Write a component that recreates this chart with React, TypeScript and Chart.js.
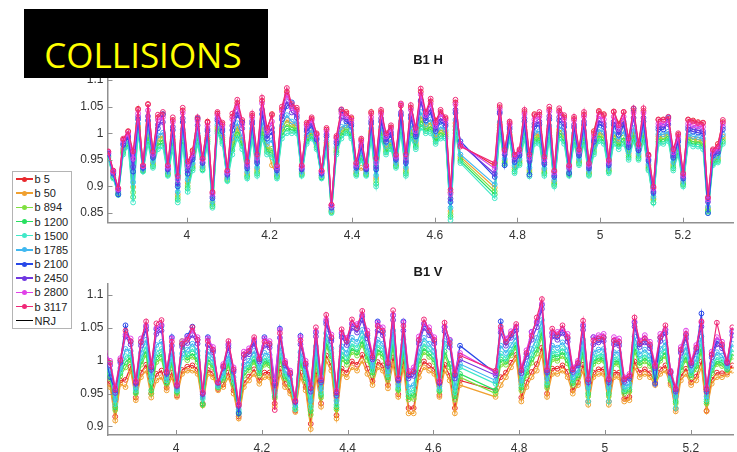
import React, { useEffect, useRef } from "react";
import { Chart, registerables } from "chart.js";

Chart.register(...registerables);

// ---------- categories / labels ----------
const seriesNames = ["b 5", "b 50", "b 894", "b 1200", "b 1500", "b 1785", "b 2100", "b 2450", "b 2800", "b 3117"];
const seriesColors = ["#e8282d", "#f0a030", "#80e040", "#28e060", "#40e8c8", "#40b8f0", "#2848e8", "#7038e0", "#e040e8", "#f02878"];
const legendNames = [...seriesNames, "NRJ"];
const legendColors = [...seriesColors, "#000000"];

const xTicks = [4, 4.2, 4.4, 4.6, 4.8, 5, 5.2];
const xTickLabels = ["4", "4.2", "4.4", "4.6", "4.8", "5", "5.2"];
const hYTicks = [0.85, 0.9, 0.95, 1, 1.05, 1.1];
const hYTickLabels = ["0.85", "0.9", "0.95", "1", "1.05", "1.1"];
const vYTicks = [0.9, 0.95, 1, 1.05, 1.1];
const vYTickLabels = ["0.9", "0.95", "1", "1.05", "1.1"];

// ---------- x values (shared by both panels) ----------
const xValues = [
  3.81, 3.822, 3.834, 3.846, 3.858, 3.87, 3.882, 3.894, 3.906, 3.918, 3.93, 3.942,
  3.954, 3.966, 3.978, 3.99, 4.002, 4.014, 4.026, 4.038, 4.05, 4.062, 4.074, 4.086,
  4.098, 4.11, 4.122, 4.134, 4.146, 4.158, 4.17, 4.182, 4.194, 4.206, 4.218, 4.23,
  4.242, 4.254, 4.266, 4.278, 4.29, 4.302, 4.314, 4.326, 4.338, 4.35, 4.362, 4.374,
  4.386, 4.398, 4.41, 4.422, 4.434, 4.446, 4.458, 4.47, 4.482, 4.494, 4.506, 4.518,
  4.53, 4.542, 4.554, 4.566, 4.578, 4.59, 4.602, 4.614, 4.626, 4.638, 4.65, 4.662,
  4.745, 4.757, 4.769, 4.781, 4.793, 4.805, 4.817, 4.829, 4.841, 4.853, 4.865, 4.877,
  4.889, 4.901, 4.913, 4.925, 4.937, 4.949, 4.961, 4.973, 4.985, 4.997, 5.009, 5.021,
  5.033, 5.045, 5.057, 5.069, 5.081, 5.093, 5.105, 5.117, 5.129, 5.141, 5.153, 5.165,
  5.177, 5.189, 5.201, 5.213, 5.225, 5.237, 5.249, 5.261, 5.273, 5.285, 5.297,
];

// ---------- B1 H ----------
const hB5 = [
  .965, .929, .896, .988, 1.004, .958, 1.046, .939, 1.055, .964, 1.030, 1.035,
  .938, 1.025, .916, 1.043, .942, .968, 1.026, .951, 1.022, .888, 1.037, 1.017,
  .928, 1.031, 1.057, 1.021, .944, 1.033, .957, 1.061, 1.006, 1.036, .938, 1.045,
  1.078, 1.051, 1.044, .938, 1.017, 1.027, .998, .929, 1.007, .865, .992, 1.041,
  1.040, 1.027, .943, .987, .938, 1.040, .949, 1.040, .997, 1.011, .958, 1.052,
  .957, 1.048, 1.007, 1.078, 1.037, 1.060, 1.024, 1.040, 1.027, .889, 1.058, .978,
  .939, 1.049, .967, 1.019, .957, .968, 1.040, .957, 1.036, 1.035, .953, 1.045,
  .928, 1.042, 1.030, .938, 1.027, .968, 1.035, .942, 1.004, 1.042, 1.036, .948,
  1.041, 1.018, 1.040, .987, 1.042, .978, 1.042, .958, .898, 1.026, 1.026, 1.027,
  .967, .997, .923, 1.026, 1.024, 1.021, 1.020, .878, .968, .980, 1.021,
];
const hB50 = [
  .957, .920, .888, .969, .984, .899, 1.013, .932, 1.002, .944, .990, .995,
  .926, .988, .885, 1.000, .907, .941, .995, .937, .992, .869, 1.012, .992,
  .916, .983, 1.012, .987, .925, 1.004, .932, 1.013, .975, .940, .923, 1.008,
  1.025, 1.017, 1.014, .926, .992, 1.002, .979, .920, .982, .855, .971, 1.007,
  1.011, 1.028, .928, .935, .926, 1.004, .916, 1.006, .972, .984, .943, 1.017,
  .932, 1.009, .982, 1.032, 1.012, 1.020, .992, 1.006, 1.002, .854, 1.019, .956,
  .898, 1.016, .949, .998, .936, .949, 1.006, .931, .996, .998, .931, 1.008,
  .909, 1.007, .996, .926, .995, .949, .998, .927, .972, 1.002, .996, .933,
  .998, .984, 1.018, .962, 1.004, .959, 1.004, .939, .878, .994, .994, .999,
  .942, .972, .908, .994, .989, .988, .985, .859, .949, .954, .994,
];
const hB894 = [
  .956, .918, .887, .966, .981, .889, 1.009, .930, .995, .941, .983, .988,
  .924, .982, .880, .994, .901, .937, .990, .935, .988, .866, 1.008, .988,
  .914, .975, 1.005, .981, .921, .999, .928, 1.005, .970, .971, .920, 1.002,
  1.017, 1.011, 1.010, .924, .988, .998, .976, .918, .978, .853, .967, 1.001,
  1.007, .998, .925, .958, .924, .999, .911, 1.001, .968, .979, .940, 1.011,
  .928, 1.003, .978, 1.025, 1.008, 1.013, .988, 1.001, .998, .848, 1.013, .952,
  .891, 1.011, .946, .995, .932, .946, 1.001, .927, .991, .992, .927, 1.002,
  .906, 1.001, .991, .924, .990, .946, .992, .925, .968, .996, .991, .930,
  .992, .979, .992, .958, .997, .956, .997, .936, .875, .989, .989, .994,
  .938, .968, .905, .989, .984, .984, .980, .856, .946, .951, .989,
];
const hB1200 = [
  .954, .917, .885, .963, .978, .880, 1.004, .929, .987, .938, .977, .982,
  .922, .976, .875, .987, .896, .934, .985, .932, .984, .863, 1.004, .984,
  .912, .968, .997, .976, .918, .995, .924, .998, .965, .963, .918, .996,
  1.009, 1.006, 1.005, .922, .984, .994, .973, .917, .974, .852, .964, .996,
  1.004, .994, .923, .954, .922, .995, .905, .995, .964, .975, .938, 1.006,
  .924, .996, .974, 1.017, 1.004, 1.007, .984, .995, .994, .843, 1.006, .948,
  .885, 1.005, .943, .991, .928, .943, .995, .923, .985, .986, .924, .996,
  .903, .996, .985, .922, .985, .943, .986, .922, .964, .990, .985, .928,
  .986, .975, .986, .954, .991, .953, .991, .933, .870, .984, .984, .990,
  .934, .964, .903, .984, .980, .979, .975, .853, .943, .948, .984,
];
const hB1500 = [
  .953, .915, .884, .960, .975, .870, 1.000, .928, .980, .935, .970, .975,
  .920, .970, .870, .980, .890, .930, .980, .930, .980, .860, 1.000, .980,
  .910, .960, .990, .970, .915, .990, .920, .990, .960, .955, .915, .990,
  1.000, 1.000, 1.000, .920, .980, .990, .970, .915, .970, .850, .960, .990,
  1.000, .990, .920, .950, .920, .990, .900, .990, .960, .970, .935, 1.000,
  .920, .990, .970, 1.010, 1.000, 1.000, .980, .990, .990, .837, 1.000, .944,
  .878, 1.000, .940, .988, .925, .940, .990, .919, .980, .980, .920, .990,
  .900, .990, .980, .920, .980, .940, .980, .920, .960, .985, .980, .925,
  .980, .970, .980, .950, .985, .950, .985, .930, .869, .980, .980, .985,
  .930, .960, .900, .980, .975, .975, .970, .850, .940, .945, .980,
];
const hB1785 = [
  .958, .921, .889, .972, .986, .908, 1.018, .933, 1.010, .947, .996, 1.001,
  .928, .994, .890, 1.007, .913, .944, 1.000, .939, .996, .872, 1.016, .996,
  .918, .991, 1.019, .992, .928, 1.009, .936, 1.021, .980, .987, .925, 1.014,
  1.034, 1.022, 1.019, .928, .996, 1.006, .982, .921, .986, .856, .974, 1.012,
  1.015, 1.006, .930, .966, .928, 1.009, .921, 1.012, .976, .988, .945, 1.022,
  .936, 1.015, .986, 1.040, 1.016, 1.026, .996, 1.012, 1.006, .860, 1.025, .960,
  .904, 1.021, .952, 1.002, .939, .952, 1.012, .935, 1.002, 1.004, .934, 1.014,
  .912, 1.013, 1.002, .928, 1.000, .952, 1.004, .930, .976, 1.007, 1.002, .935,
  1.004, .988, 1.004, .966, 1.010, .962, 1.010, .942, .881, .998, .998, 1.003,
  .946, .976, .910, .998, .994, .993, .990, .862, .952, .957, .998,
];
const hB2100 = [
  .961, .924, .885, .978, .992, .928, 1.026, .935, 1.024, .954, 1.009, 1.036,
  .932, 1.006, .900, 1.021, .924, .951, 1.028, .944, 1.004, .878, 1.024, 1.004,
  .922, 1.006, 1.034, 1.020, .934, 1.018, .944, 1.036, .990, 1.002, .930, 1.026,
  1.051, 1.058, 1.029, .932, 1.004, 1.014, .988, .924, .994, .860, .981, 1.044,
  1.022, 1.014, .935, .974, .932, 1.018, .932, 1.022, .984, .997, .950, 1.034,
  .944, 1.028, .994, 1.060, 1.024, 1.039, 1.004, 1.022, 1.014, .871, 1.038, .985,
  .918, 1.040, .940, 1.008, .946, .958, 1.022, .922, 1.012, 1.016, .942, 1.026,
  .918, 1.024, 1.012, .925, 1.011, .958, 1.016, .934, .984, 1.018, 1.012, .940,
  1.016, .997, 1.016, .974, 1.046, .968, 1.022, .948, .888, 1.007, 1.007, 1.030,
  .954, .984, .915, 1.007, 1.003, 1.001, .999, .850, .958, .963, 1.007,
];
const hB2450 = [
  .962, .926, .893, .981, .995, .937, 1.031, .937, 1.032, .957, 1.016, 1.021,
  .934, 1.012, .905, 1.028, .930, .955, 1.015, .946, 1.008, .881, 1.028, 1.008,
  .924, 1.014, 1.041, 1.009, .938, 1.023, .948, 1.044, .995, 1.010, .933, 1.032,
  1.060, 1.039, 1.034, .934, 1.008, 1.018, .991, .926, .998, .861, .985, 1.029,
  1.026, 1.018, .938, .978, .934, 1.023, .937, 1.028, .988, 1.002, .953, 1.039,
  .948, 1.034, .998, 1.062, 1.028, 1.046, 1.008, 1.028, 1.018, .877, 1.044, .980,
  .924, 1.037, .960, 1.012, .950, .961, 1.028, .948, 1.018, 1.022, .945, 1.032,
  .921, 1.030, 1.018, .934, 1.016, .961, 1.022, .937, .988, 1.024, 1.018, .943,
  1.022, 1.002, 1.022, .978, 1.029, .971, 1.029, .951, .891, 1.012, 1.012, 1.017,
  .958, .988, .918, 1.012, 1.008, 1.006, 1.004, .871, .961, .966, 1.012,
];
const hB2800 = [
  .964, .928, .895, .986, .999, .952, 1.037, .938, 1.043, .961, 1.025, 1.030,
  .937, 1.021, .913, 1.038, .939, .960, 1.023, .950, 1.014, .886, 1.034, 1.014,
  .927, 1.026, 1.052, 1.017, .942, 1.030, .954, 1.056, 1.003, 1.022, .936, 1.041,
  1.072, 1.047, 1.041, .937, 1.014, 1.024, .996, .928, 1.004, .864, .990, 1.037,
  1.032, 1.024, .941, .984, .937, 1.030, .945, 1.036, .994, 1.008, .956, 1.054,
  .954, 1.044, 1.004, 1.073, 1.034, 1.055, 1.014, 1.036, 1.024, .886, 1.054, .979,
  .934, 1.045, .965, 1.017, .955, .966, 1.036, .954, 1.026, 1.031, .951, 1.041,
  .926, 1.039, 1.026, .937, 1.024, .966, 1.031, .941, .994, 1.032, 1.026, .946,
  1.031, 1.008, 1.031, .984, 1.038, .976, 1.038, .956, .896, 1.018, 1.018, 1.024,
  .964, .994, .921, 1.018, 1.015, 1.013, 1.012, .876, .966, .971, 1.018,
];
const hB3117 = [
  .966, .930, .897, .990, 1.003, .966, 1.044, .940, 1.054, .966, 1.035, 1.040,
  .940, 1.030, .920, 1.048, .947, .965, 1.030, .953, 1.020, .890, 1.040, 1.020,
  .930, 1.037, 1.063, 1.025, .947, 1.037, .960, 1.067, 1.010, 1.034, .940, 1.050,
  1.085, 1.055, 1.048, .940, 1.020, 1.030, 1.000, .930, 1.010, .866, .995, 1.045,
  1.037, 1.030, .945, .990, .940, 1.037, .953, 1.044, 1.000, 1.015, .960, 1.056,
  .960, 1.053, 1.010, 1.084, 1.040, 1.065, 1.020, 1.044, 1.030, .894, 1.063, .975,
  .944, 1.053, .969, 1.022, .960, .970, 1.044, .960, 1.034, 1.040, .956, 1.050,
  .930, 1.047, 1.034, .940, 1.031, .970, 1.040, .944, 1.000, 1.040, 1.034, .950,
  1.040, 1.015, 1.040, .990, 1.047, .980, 1.047, .960, .900, 1.025, 1.025, 1.031,
  .970, 1.000, .925, 1.025, 1.022, 1.019, 1.019, .880, .970, .975, 1.025,
];

// ---------- B1 V ----------
const vB5 = [
  .974, .979, .971, .965, .915, .970, .971, .991, .944, .982, .994, .950,
  .980, .985, .959, .982, .947, .986, .991, .993, .987, .935, .986, .981,
  .957, .964, .982, .955, .915, .966, .976, .987, .970, .982, .982, .935,
  .988, .965, .954, .924, .982, .960, .904, .984, .935, 1.008, .992, .917,
  .988, .982, .999, .994, 1.009, .988, .969, .998, .993, .963, 1.005, .949,
  .998, .928, .928, .982, .999, .993, .987, .948, .994, .977, .928, .970,
  .955, .975, .982, .997, 1.009, .944, .967, .983, .995, 1.020, .950, .988,
  .988, .993, .983, .955, .967, .994, .938, .982, .987, .987, .938, .982,
  .982, .942, .945, .999, .982, .987, .981, .967, .987, .993, .966, .927,
  .976, .988, .967, .976, .999, .924, .971, .982, .981, .982, .993,
];
const vB50 = [
  .970, .975, .965, .960, .909, .965, .960, .985, .940, .975, .985, .944,
  .970, .975, .955, .975, .945, .980, .985, .985, .980, .932, .980, .975,
  .955, .960, .975, .950, .912, .960, .970, .980, .965, .975, .975, .930,
  .980, .960, .950, .922, .975, .955, .896, .975, .930, 1.000, .985, .912,
  .980, .975, .990, .985, 1.000, .980, .963, .990, .985, .958, .995, .945,
  .990, .920, .920, .975, .990, .985, .980, .945, .985, .970, .920, .963,
  .945, .963, .975, .990, 1.003, .938, .960, .975, .985, 1.010, .945, .980,
  .980, .985, .975, .950, .963, .985, .933, .975, .980, .980, .933, .975,
  .975, .938, .940, .990, .975, .980, .975, .963, .980, .985, .963, .923,
  .970, .980, .963, .970, .990, .923, .965, .975, .975, .979, .985,
];
const vB894 = [
  .980, .986, .981, .973, .925, .977, .990, 1.001, .950, .994, 1.009, .950,
  .998, 1.003, .965, .994, .951, 1.030, 1.001, 1.006, .998, .933, .997, .990,
  .959, .971, .993, .963, .919, .977, .986, .998, .978, .994, .993, .943,
  1.001, .973, .961, .928, .995, .969, .918, .999, .944, 1.022, 1.003, .926,
  1.002, .994, 1.013, 1.008, 1.024, 1.001, .978, 1.012, 1.006, .971, 1.021, .955,
  1.012, .941, .942, .995, 1.013, 1.006, .998, .953, 1.008, .990, .941, .975,
  .950, .994, .994, 1.008, 1.020, .955, .978, .997, 1.011, 1.037, .959, 1.002,
  1.000, 1.007, .996, .963, .975, 1.009, .946, .995, .999, 1.000, .946, .995,
  .994, .950, .953, 1.014, .993, .999, .992, .973, 1.000, 1.007, .970, .935,
  .986, 1.001, .975, .987, 1.014, .935, .981, .995, .992, .986, 1.006,
];
const vB1200 = [
  .982, .989, .985, .976, .929, .981, .998, 1.005, .952, .999, 1.015, .955,
  1.005, 1.010, .967, .999, .953, 1.025, 1.005, 1.011, 1.002, .934, 1.002, .993,
  .960, .974, .997, .966, .921, .982, .990, 1.002, .981, .999, .997, .946,
  1.007, .976, .964, .929, .999, .973, .924, 1.005, .948, 1.027, 1.007, .929,
  1.007, .999, 1.019, 1.013, 1.030, 1.006, .982, 1.017, 1.011, .975, 1.028, .957,
  1.017, .946, .948, 1.000, 1.019, 1.011, 1.002, .955, 1.014, .995, .946, .980,
  .955, 1.002, .999, 1.012, 1.024, .959, .982, 1.003, 1.017, 1.044, .963, 1.008,
  1.006, 1.013, 1.001, .966, .978, 1.015, .950, .999, 1.004, 1.004, .950, .999,
  .999, .953, .956, 1.020, .997, 1.004, .997, .976, 1.004, 1.013, .972, .938,
  .990, 1.006, .978, .992, 1.020, .938, .985, .999, .997, .987, 1.011,
];
const vB1500 = [
  .985, .992, .990, .980, .934, .984, 1.007, 1.009, .955, 1.004, 1.022, .969,
  1.013, 1.018, .970, 1.004, .955, 1.005, 1.010, 1.018, 1.008, .942, 1.007, .998,
  .961, .977, 1.002, .970, .923, .987, .994, 1.008, .985, 1.004, 1.002, .950,
  1.013, .980, .967, .926, 1.005, .977, .930, 1.013, .952, 1.034, 1.012, .933,
  1.014, 1.005, 1.026, 1.020, 1.038, 1.013, .986, 1.024, 1.018, .979, 1.036, .960,
  1.024, .952, .955, 1.006, 1.026, 1.018, 1.008, .957, 1.021, 1.030, .952, .990,
  .965, 1.011, 1.004, 1.017, 1.029, .964, .988, 1.009, 1.025, 1.052, .967, 1.014,
  1.012, 1.019, 1.008, .970, .981, 1.023, .938, 1.005, 1.009, 1.010, .938, 1.005,
  1.004, .956, .960, 1.028, 1.003, 1.009, 1.002, .979, 1.010, 1.019, .974, .928,
  .995, 1.013, .981, .997, 1.028, .941, .989, 1.005, 1.002, .989, 1.018,
];
const vB1785 = [
  .989, .997, .995, .985, .941, .989, 1.018, 1.015, .959, 1.012, 1.032, .976,
  1.024, 1.029, .974, 1.012, .957, 1.011, 1.017, 1.026, 1.015, .945, 1.014, 1.004,
  .963, .982, 1.009, .975, .926, .994, 1.000, 1.015, .990, 1.012, 1.009, .955,
  1.022, .985, .972, .933, 1.013, .983, .939, 1.022, .958, 1.042, 1.019, .939,
  1.022, 1.012, 1.035, 1.029, 1.047, 1.021, .992, 1.032, 1.026, .984, 1.046, .964,
  1.032, .960, .963, 1.013, 1.035, 1.026, 1.015, .961, 1.030, 1.025, .960, .995,
  .970, 1.023, 1.012, 1.024, 1.036, .970, .995, 1.018, 1.035, 1.062, .973, 1.023,
  1.020, 1.028, 1.016, .975, .986, 1.032, .959, 1.013, 1.017, 1.018, .959, 1.013,
  1.012, .961, .965, 1.037, 1.010, 1.017, 1.008, .983, 1.018, 1.028, .977, .946,
  1.002, 1.021, .986, 1.003, 1.037, .946, .995, 1.013, 1.008, .992, 1.026,
];
const vB2100 = [
  .997, 1.006, 1.009, .975, .955, 1.000, 1.054, 1.029, .967, 1.028, 1.052, .990,
  1.048, 1.053, .982, 1.036, .963, 1.025, 1.038, 1.052, 1.032, .951, 1.036, 1.016,
  .967, .991, 1.024, .986, .920, 1.009, 1.014, 1.030, 1.002, 1.036, 1.024, .966,
  1.049, .996, .981, .938, 1.038, .995, .958, 1.043, .970, 1.060, 1.034, .951,
  1.041, 1.029, 1.056, 1.049, 1.068, 1.039, 1.005, 1.060, 1.044, .996, 1.069, .972,
  1.060, .978, .983, 1.031, 1.056, 1.044, 1.030, .967, 1.051, 1.032, .978, 1.023,
  .981, 1.060, 1.028, 1.039, 1.051, .985, 1.010, 1.044, 1.058, 1.085, .985, 1.042,
  1.037, 1.047, 1.034, .986, .996, 1.053, .971, 1.036, 1.033, 1.035, .971, 1.030,
  1.028, .971, .976, 1.058, 1.025, 1.033, 1.023, .965, 1.035, 1.047, .983, .956,
  1.016, 1.039, .996, 1.018, 1.072, .956, 1.009, 1.030, 1.023, .998, 1.044,
];
const vB2450 = [
  .995, 1.004, 1.005, .993, .951, .997, 1.037, 1.025, .965, 1.023, 1.047, .986,
  1.041, 1.046, .980, 1.023, .961, 1.021, 1.027, 1.039, 1.026, .949, 1.024, 1.013,
  .966, .989, 1.020, .983, .931, 1.004, 1.010, 1.026, .999, 1.023, 1.020, .963,
  1.035, .993, .979, .937, 1.025, .992, .953, 1.037, .967, 1.056, 1.030, .947,
  1.036, 1.024, 1.050, 1.043, 1.062, 1.034, 1.002, 1.046, 1.039, .992, 1.062, .970,
  1.046, .973, .977, 1.026, 1.050, 1.039, 1.026, .966, 1.045, 1.021, .973, 1.002,
  .978, 1.043, 1.023, 1.035, 1.046, .981, 1.006, 1.032, 1.051, 1.079, .982, 1.037,
  1.032, 1.042, 1.029, .983, .993, 1.047, .967, 1.025, 1.028, 1.030, .967, 1.025,
  1.023, .968, .973, 1.052, 1.021, 1.028, 1.019, .989, 1.030, 1.042, .981, .953,
  1.012, 1.034, .993, 1.014, 1.052, .953, 1.005, 1.025, 1.019, .996, 1.039,
];
const vB2800 = [
  1.000, 1.010, 1.014, 1.000, .960, 1.004, 1.040, 1.034, .970, 1.034, 1.054, .995,
  1.050, 1.055, .985, 1.034, .965, 1.030, 1.036, 1.046, 1.036, .953, 1.034, 1.021,
  .968, .995, 1.026, .990, .935, 1.014, 1.019, 1.032, 1.006, 1.034, 1.030, .970,
  1.047, 1.000, .985, .940, 1.036, 1.000, .965, 1.045, .975, 1.063, 1.040, .955,
  1.043, 1.035, 1.057, 1.056, 1.070, 1.046, 1.010, 1.058, 1.051, 1.000, 1.070, .975,
  1.058, .985, .990, 1.037, 1.057, 1.051, 1.036, .970, 1.052, 1.032, .985, 1.012,
  .982, 1.048, 1.034, 1.045, 1.052, .990, 1.016, 1.044, 1.060, 1.087, .990, 1.043,
  1.044, 1.048, 1.041, .990, 1.000, 1.055, .975, 1.036, 1.039, 1.041, .975, 1.036,
  1.034, .975, .980, 1.060, 1.031, 1.039, 1.029, .995, 1.041, 1.048, .985, .960,
  1.021, 1.046, 1.000, 1.024, 1.058, .960, 1.014, 1.036, 1.029, 1.000, 1.046,
];
const vB3117 = [
  .998, 1.007, 1.010, .997, .956, 1.001, 1.046, 1.030, .968, 1.029, 1.060, .991,
  1.057, 1.062, .983, 1.029, .963, 1.026, 1.032, 1.051, 1.032, .951, 1.030, 1.017,
  .967, .992, 1.030, .987, .933, 1.010, 1.015, 1.036, 1.003, 1.029, 1.026, .925,
  1.042, .997, .982, .939, 1.031, .996, .959, 1.051, .971, 1.070, 1.036, .952,
  1.048, 1.030, 1.063, 1.050, 1.076, 1.041, 1.006, 1.053, 1.046, .997, 1.077, .973,
  1.053, .980, .984, 1.032, 1.063, 1.046, 1.032, .968, 1.058, 1.027, .980, 1.008,
  .985, 1.052, 1.029, 1.041, 1.056, .986, 1.012, 1.038, 1.066, 1.094, .986, 1.049,
  1.039, 1.054, 1.036, .987, .997, 1.061, .972, 1.031, 1.034, 1.036, .972, 1.031,
  1.029, .972, .977, 1.066, 1.027, 1.034, 1.025, .992, 1.036, 1.054, .983, .957,
  1.017, 1.041, .997, 1.020, 1.060, .957, 1.010, 1.058, 1.025, .998, 1.051,
];

const hSeries = [hB5, hB50, hB894, hB1200, hB1500, hB1785, hB2100, hB2450, hB2800, hB3117];
const vSeries = [vB5, vB50, vB894, vB1200, vB1500, vB1785, vB2100, vB2450, vB2800, vB3117];

// ---------- styling ----------
const FONT = '"Liberation Sans", Arial, Helvetica, sans-serif';
const AXIS_COLOR = "#909090";
const TEXT_COLOR = "#333333";

type PanelProps = {
  top: number;
  height: number;
  padTop: number;
  axisH: number;
  xMin: number;
  xMax: number;
  yMin: number;
  yMax: number;
  yTicks: number[];
  yTickLabels: string[];
  series: number[][];
  title: string;
  titleX: number;
  titleY: number;
};

function Panel(p: PanelProps) {
  const ref = useRef<HTMLCanvasElement | null>(null);

  useEffect(() => {
    const canvas = ref.current;
    if (!canvas) return;

    const innerTicks = {
      id: "innerTicks",
      afterDraw(chart: any) {
        const { ctx, chartArea, scales } = chart;
        ctx.save();
        ctx.strokeStyle = AXIS_COLOR;
        ctx.lineWidth = 1;
        ctx.beginPath();
        for (const v of xTicks) {
          const px = Math.round(scales.x.getPixelForValue(v)) + 0.5;
          ctx.moveTo(px, chartArea.bottom);
          ctx.lineTo(px, chartArea.bottom - 5);
        }
        for (const v of p.yTicks) {
          const py = Math.round(scales.y.getPixelForValue(v)) + 0.5;
          ctx.moveTo(chartArea.left, py);
          ctx.lineTo(chartArea.left + 5, py);
        }
        ctx.stroke();
        ctx.restore();
      },
    };

    const panelTitle = {
      id: "panelTitle",
      afterDraw(chart: any) {
        const ctx = chart.ctx;
        ctx.save();
        ctx.font = `bold 13px ${FONT}`;
        ctx.fillStyle = "#1a1a1a";
        ctx.textAlign = "center";
        ctx.textBaseline = "middle";
        ctx.fillText(p.title, p.titleX, p.titleY - p.top);
        ctx.restore();
      },
    };

    const n = p.series.length;
    const chart = new Chart(canvas, {
      type: "line",
      data: {
        datasets: p.series.map((vals, i) => ({
          label: seriesNames[i],
          data: xValues.map((x, j) => ({ x, y: vals[j] })),
          borderColor: seriesColors[i],
          backgroundColor: "rgba(0,0,0,0)",
          pointBorderColor: seriesColors[i],
          pointBackgroundColor: "rgba(0,0,0,0)",
          pointRadius: 2.4,
          pointBorderWidth: 1,
          pointHoverRadius: 2.4,
          borderWidth: 1.2,
          tension: 0,
          fill: false,
          order: n - i,
        })),
      },
      options: {
        animation: false,
        responsive: false,
        maintainAspectRatio: false,
        events: [],
        layout: { padding: { top: p.padTop, left: 0, right: 0, bottom: 0 } },
        plugins: {
          legend: { display: false },
          tooltip: { enabled: false },
          title: { display: false },
        },
        scales: {
          x: {
            type: "linear",
            min: p.xMin,
            max: p.xMax,
            grid: { display: false, drawTicks: false },
            border: { display: true, color: AXIS_COLOR, width: 1.5 },
            ticks: {
              autoSkip: false,
              maxRotation: 0,
              padding: 6,
              color: TEXT_COLOR,
              font: { family: FONT, size: 12 },
              callback: (v: any) => {
                const i = xTicks.indexOf(Number(v));
                return i >= 0 ? xTickLabels[i] : "";
              },
            },
            afterBuildTicks: (s: any) => {
              s.ticks = xTicks.map((v) => ({ value: v }));
            },
            afterFit: (s: any) => {
              s.height = p.axisH;
            },
          },
          y: {
            type: "linear",
            min: p.yMin,
            max: p.yMax,
            grid: { display: false, drawTicks: false },
            border: { display: true, color: AXIS_COLOR, width: 1.5 },
            ticks: {
              autoSkip: false,
              padding: 4,
              color: TEXT_COLOR,
              font: { family: FONT, size: 12 },
              callback: (v: any) => {
                const i = p.yTicks.indexOf(Number(v));
                return i >= 0 ? p.yTickLabels[i] : "";
              },
            },
            afterBuildTicks: (s: any) => {
              s.ticks = p.yTicks.map((v) => ({ value: v }));
            },
            afterFit: (s: any) => {
              s.width = 107.5;
            },
          },
        },
      } as any,
      plugins: [innerTicks, panelTitle],
    });

    return () => {
      chart.destroy();
    };
  }, []);

  return (
    <canvas
      ref={ref}
      width={737}
      height={p.height}
      style={{ position: "absolute", left: 0, top: p.top, width: 737, height: p.height }}
    />
  );
}

function Legend() {
  return (
    <div
      style={{
        position: "absolute",
        left: 12,
        top: 171,
        width: 60,
        height: 158,
        border: "1px solid #b4b4b4",
        boxSizing: "border-box",
        background: "#ffffff",
        fontFamily: FONT,
        fontSize: 11,
        color: "#222222",
      }}
    >
      {legendNames.map((name, i) => (
        <div key={name} style={{ position: "absolute", left: 0, top: i * 14.17, height: 14, width: "100%" }}>
          <div
            style={{
              position: "absolute",
              left: 3,
              top: 6.25,
              width: 17,
              height: 1.5,
              background: legendColors[i],
            }}
          />
          {i < seriesNames.length && (
            <div
              style={{
                position: "absolute",
                left: 8.5,
                top: 4.5,
                width: 5,
                height: 5,
                borderRadius: "50%",
                background: legendColors[i],
              }}
            />
          )}
          <div style={{ position: "absolute", left: 21.5, top: 0, lineHeight: "14px", whiteSpace: "nowrap" }}>{name}</div>
        </div>
      ))}
    </div>
  );
}

export default function App() {
  return (
    <div
      style={{
        position: "absolute",
        left: 0,
        top: 0,
        width: 737,
        height: 452,
        overflow: "hidden",
        background: "#ffffff",
      }}
    >
      <Panel
        top={40}
        height={205}
        padTop={34.7}
        axisH={22.3}
        xMin={3.808}
        xMax={5.323}
        yMin={0.832}
        yMax={1.11}
        yTicks={hYTicks}
        yTickLabels={hYTickLabels}
        series={hSeries}
        title="B1 H"
        titleX={428}
        titleY={60}
      />
      <Panel
        top={240}
        height={212}
        padTop={43.3}
        axisH={17}
        xMin={3.84}
        xMax={5.3}
        yMin={0.887}
        yMax={1.118}
        yTicks={vYTicks}
        yTickLabels={vYTickLabels}
        series={vSeries}
        title="B1 V"
        titleX={428}
        titleY={272}
      />
      <Legend />
      <div style={{ position: "absolute", left: 24, top: 9, width: 244, height: 69, background: "#000000" }}>
        <div
          style={{
            position: "absolute",
            left: 0,
            width: 238,
            top: 28.4,
            textAlign: "center",
            fontFamily: '"Open Sans", "Noto Sans", sans-serif',
            fontSize: 35,
            lineHeight: "35px",
            color: "#ffff00",
            whiteSpace: "nowrap",
          }}
        >
          COLLISIONS
        </div>
      </div>
    </div>
  );
}
